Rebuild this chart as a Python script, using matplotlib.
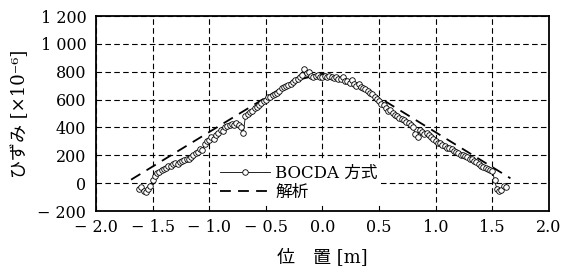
import matplotlib
matplotlib.use('Agg')
import matplotlib.pyplot as plt
import numpy as np

# BOCDA 計測値 (x = -1.62 .. 1.62 m, 0.02 m 間隔)
bocda_y = [-40, -30, -55, -60, -45, -20, 20, 50, 70, 80,
           95, 100, 110, 125, 120, 135, 145, 140, 150, 160,
           165, 175, 170, 190, 200, 215, 225, 245, 240, 280,
           300, 310, 330, 320, 345, 360, 380, 375, 400, 410,
           420, 425, 415, 430, 420, 400, 360, 480, 500, 510,
           520, 540, 550, 560, 575, 590, 600, 615, 620, 630,
           640, 650, 665, 680, 690, 700, 705, 715, 725, 740,
           745, 760, 780, 820, 790, 800, 770, 760, 770, 775,
           760, 765, 770, 765, 770, 760, 755, 765, 750, 745,
           760, 730, 735, 720, 740, 715, 700, 710, 690, 680,
           675, 660, 650, 640, 620, 605, 590, 565, 560, 540,
           520, 525, 505, 490, 485, 470, 460, 450, 440, 430,
           420, 400, 350, 330, 380, 365, 355, 360, 345, 330,
           320, 300, 290, 285, 275, 270, 255, 250, 245, 230,
           225, 215, 205, 200, 195, 185, 175, 170, 160, 150,
           135, 125, 115, 110, 100, 95, 90, 20, -40, -55,
           -50, -20, -30]
bocda_x = np.linspace(-1.62, 1.62, len(bocda_y))

# 解析値
kaiseki_x = [-1.69, -0.5, -0.25, 0.0, 0.25, 0.5, 1.66]
kaiseki_y = [25, 615, 735, 785, 735, 615, 35]

xticks = [-2.0, -1.5, -1.0, -0.5, 0.0, 0.5, 1.0, 1.5, 2.0]
xticklabels = ['− 2.0', '− 1.5', '− 1.0', '− 0.5', '0.0', '0.5', '1.0', '1.5', '2.0']
yticks = [-200, 0, 200, 400, 600, 800, 1000, 1200]
yticklabels = ['− 200', '0', '200', '400', '600', '800', '1 000', '1 200']

plt.rcParams['font.family'] = ['DejaVu Serif', 'Noto Sans CJK JP', 'DejaVu Sans']

fig = plt.figure(figsize=(5.63, 2.70), dpi=100)
ax = fig.add_axes([0.1705, 0.2185, 0.8045, 0.7222])

ax.plot(bocda_x, bocda_y, color='black', linewidth=0.6, marker='o', markersize=4,
        markerfacecolor='white', markeredgecolor='black', markeredgewidth=0.6,
        label='BOCDA 方式', zorder=3)
ax.plot(kaiseki_x, kaiseki_y, color='black', linewidth=1.3, linestyle=(0, (6, 4)),
        label='解析', zorder=2)

ax.set_xlim(-2.0, 2.0)
ax.set_ylim(-200, 1200)
ax.set_xticks(xticks)
ax.set_xticklabels(xticklabels, fontsize=11.5)
ax.set_yticks(yticks)
ax.set_yticklabels(yticklabels, fontsize=11.5)
ax.tick_params(axis='x', length=0, pad=6)
ax.tick_params(axis='y', length=0, pad=7)

ax.grid(True, color='black', linestyle=(0, (5, 3)), linewidth=0.8)
for s in ax.spines.values():
    s.set_linewidth(1.3)

ax.set_xlabel('位　置 [m]', fontsize=13, labelpad=9)
ax.set_ylabel('ひずみ [×10⁻⁶]', fontsize=13, labelpad=6)

leg = ax.legend(loc='upper left', bbox_to_anchor=(0.267, 0.255), fontsize=12,
                frameon=True, fancybox=False, edgecolor='none', facecolor='white',
                framealpha=1, handlelength=3, handletextpad=0.3, borderpad=0.2,
                labelspacing=0.15, borderaxespad=0)

fig.savefig('out.png', dpi=100)
